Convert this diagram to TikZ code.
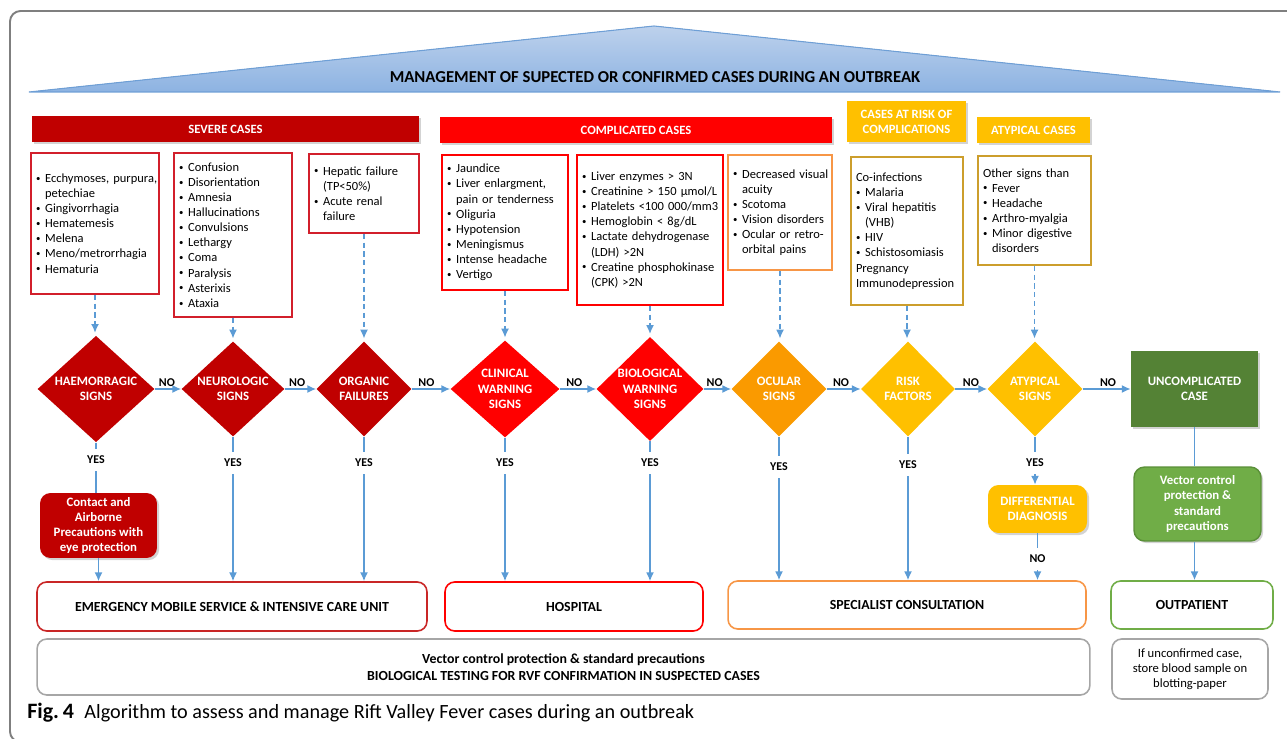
\documentclass[tikz,border=0pt]{standalone}
\usepackage{fontspec}
\setmainfont{Carlito}
\usetikzlibrary{shapes.geometric,arrows.meta,shadows}

\definecolor{sevred}{HTML}{C00000}
\definecolor{compred}{HTML}{FF0000}
\definecolor{ocularorange}{HTML}{FA9A00}
\definecolor{amber}{HTML}{FFC000}
\definecolor{uncgreen}{HTML}{548235}
\definecolor{lgreen}{HTML}{70AD47}
\definecolor{dgreen}{HTML}{5A8F38}
\definecolor{arrowblue}{HTML}{5B9BD5}
\definecolor{boxred}{HTML}{D21F2B}
\definecolor{boxorange}{HTML}{F79646}
\definecolor{boxgold}{HTML}{CC9E2C}
\definecolor{boxgray}{HTML}{A6A6A6}
\definecolor{framegray}{HTML}{7F7F7F}
\definecolor{tritop}{HTML}{BDD1EC}
\definecolor{tribot}{HTML}{8DB3E2}
\definecolor{triedge}{HTML}{6E9FD6}

\newcommand{\itm}[1]{\mbox{\makebox[5.2pt][l]{\raisebox{0.7pt}{\fontsize{5}{5}\selectfont •}}#1}}
\newcommand{\cnt}[1]{\mbox{\hspace*{5.2pt}#1}}

\tikzset{
  hdr/.style={fill=#1, text=white, align=center, inner sep=0pt,
    font=\fontsize{7.2}{8.6}\selectfont\bfseries,
    drop shadow={opacity=0.35, shadow xshift=1.2pt, shadow yshift=-1.2pt}},
  lst/.style={draw=#1, line width=1pt, fill=white, align=left, inner sep=0pt,
    font=\fontsize{7.1}{8.6}\selectfont},
  dia/.style={diamond, aspect=1, fill=#1, text=white, align=center, inner sep=0pt,
    font=\fontsize{7.3}{8.8}\selectfont\bfseries},
  actbox/.style={fill=#1, text=white, align=center, inner sep=0pt, rounded corners=6pt,
    font=\fontsize{7.3}{8.6}\selectfont\bfseries,
    drop shadow={opacity=0.35, shadow xshift=1.2pt, shadow yshift=-1.2pt}},
  endbox/.style={draw=#1, line width=0.9pt, fill=white, rounded corners=5.5pt,
    align=center, inner sep=0pt, font=\fontsize{7.9}{9.6}\selectfont\bfseries},
  flow/.style={draw=arrowblue, line width=0.8pt},
  arr/.style={flow, -{Latex[length=5pt,width=4.5pt]}},
  dflow/.style={arr, dash pattern=on 3pt off 2pt, shorten >=1.5pt},
  yn/.style={font=\fontsize{6.8}{8}\selectfont\bfseries, inner sep=4pt},
  nolab/.style={font=\fontsize{6.8}{8}\selectfont\bfseries, inner sep=1.2pt, anchor=south west}
}

\begin{document}
\begin{tikzpicture}[x=0.02cm, y=-0.02cm]
  \useasboundingbox (0,0) rectangle (1287,739);
  % frame and banner
  \draw[framegray, line width=1.1pt, rounded corners=6pt] (10,11) rectangle (1320,742);
  \filldraw[draw=triedge, line width=0.6pt, top color=tritop, bottom color=tribot]
    (29,92) -- (654,26) -- (1280,92) -- cycle;
  \node[font=\fontsize{9.5}{12}\selectfont\bfseries] (title) at (655,77)
    {MANAGEMENT OF SUPECTED OR CONFIRMED CASES DURING AN OUTBREAK};

  % headers
  \node[hdr=sevred, minimum width=7.74cm, minimum height=0.52cm] (severe) at (225.5,129) {SEVERE CASES};
  \node[hdr=compred, minimum width=7.84cm, minimum height=0.52cm] (complicated) at (636,130) {COMPLICATED CASES};
  \node[hdr=amber, minimum width=2.38cm, minimum height=0.82cm] (riskhdr) at (906.5,121.5) {CASES AT RISK OF\\COMPLICATIONS};
  \node[hdr=amber, minimum width=2.26cm, minimum height=0.52cm] (atyphdr) at (1033.5,130) {ATYPICAL CASES};

  % lists of signs
  \node[lst=boxred, minimum width=2.56cm, minimum height=2.82cm, text width=2.36cm] (haemlist) at (95,223.5)
    {\itm{Ecchymoses, purpura,}\\\cnt{petechiae}\\\itm{Gingivorrhagia}\\\itm{Hematemesis}\\\itm{Melena}\\\itm{Meno/metrorrhagia}\\\itm{Hematuria}};
  \node[lst=boxred, minimum width=2.36cm, minimum height=3.28cm, text width=2.16cm] (neurolist) at (233,235)
    {\itm{Confusion}\\\itm{Disorientation}\\\itm{Amnesia}\\\itm{Hallucinations}\\\itm{Convulsions}\\\itm{Lethargy}\\\itm{Coma}\\\itm{Paralysis}\\\itm{Asterixis}\\\itm{Ataxia}};
  \node[lst=boxred, minimum width=2.2cm, minimum height=1.58cm, text width=2.0cm] (organlist) at (364,193.5)
    {\itm{Hepatic failure}\\\cnt{(TP<50\%)}\\\itm{Acute renal}\\\cnt{failure}};
  \node[lst=compred, minimum width=2.52cm, minimum height=2.7cm, text width=2.32cm] (cliniclist) at (505,222.5)
    {\itm{Jaundice}\\\itm{Liver enlargment,}\\\cnt{pain or tenderness}\\\itm{Oliguria}\\\itm{Hypotension}\\\itm{Meningismus}\\\itm{Intense headache}\\\itm{Vertigo}};
  \node[lst=compred, minimum width=2.92cm, minimum height=3.0cm, text width=2.72cm] (biolist) at (650,230)
    {\itm{Liver enzymes > 3N}\\\itm{Creatinine > 150 µmol/L}\\\itm{Platelets <100 000/mm3}\\\itm{Hemoglobin < 8g/dL}\\\itm{Lactate dehydrogenase}\\\cnt{(LDH) >2N}\\\itm{Creatine phosphokinase}\\\cnt{(CPK) >2N}};
  \node[lst=boxorange, minimum width=2.08cm, minimum height=2.3cm, text width=1.88cm] (ocularlist) at (780,212.5)
    {\itm{Decreased visual}\\\cnt{acuity}\\\itm{Scotoma}\\\itm{Vision disorders}\\\itm{Ocular or retro-}\\\cnt{orbital pains}};
  \node[lst=boxgold, minimum width=2.24cm, minimum height=2.96cm, text width=2.04cm] (risklist) at (907,231)
    {Co-infections\\\itm{Malaria}\\\itm{Viral hepatitis}\\\cnt{(VHB)}\\\itm{HIV}\\\itm{Schistosomiasis}\\Pregnancy\\Immunodepression};
  \node[lst=boxgold, minimum width=2.26cm, minimum height=2.18cm, text width=2.06cm] (atyplist) at (1034.5,210.5)
    {Other signs than\\\itm{Fever}\\\itm{Headache}\\\itm{Arthro-myalgia}\\\itm{Minor digestive}\\\cnt{disorders}};

  % decisions
  \node[dia=sevred, minimum width=2.34cm, minimum height=1.94cm] (haem) at (96,389) {HAEMORRAGIC\\SIGNS};
  \node[dia=sevred, minimum width=2.06cm, minimum height=1.9cm] (neuro) at (233,389) {NEUROLOGIC\\SIGNS};
  \node[dia=sevred, minimum width=1.9cm, minimum height=1.9cm] (organ) at (364,389) {ORGANIC\\FAILURES};
  \node[dia=compred, minimum width=2.18cm, minimum height=1.94cm] (clinic) at (505,389) {CLINICAL\\WARNING\\SIGNS};
  \node[dia=compred, minimum width=2.14cm, minimum height=1.94cm] (bio) at (650,389) {BIOLOGICAL\\WARNING\\SIGNS};
  \node[dia=ocularorange, minimum width=1.9cm, minimum height=1.9cm] (ocular) at (779,389) {OCULAR\\SIGNS};
  \node[dia=amber, minimum width=1.88cm, minimum height=1.9cm] (risk) at (908,389) {RISK\\FACTORS};
  \node[dia=amber, minimum width=1.9cm, minimum height=1.9cm] (atyp) at (1035,389) {ATYPICAL\\SIGNS};
  \node[actbox=uncgreen, rounded corners=0pt, minimum width=2.54cm, minimum height=1.52cm] (uncomp) at (1194.5,389) {UNCOMPLICATED\\CASE};

  % yes / no labels
  \node[yn] (yes1) at (96,460) {YES};
  \node[yn] (yes2) at (233,463) {YES};
  \node[yn] (yes3) at (364,463) {YES};
  \node[yn] (yes4) at (505,463) {YES};
  \node[yn] (yes5) at (650,463) {YES};
  \node[yn] (yes6) at (779,467) {YES};
  \node[yn] (yes7) at (908,465) {YES};
  \node[yn] (yes8) at (1035,463) {YES};

  % actions
  \node[actbox=sevred, minimum width=2.34cm, minimum height=1.3cm] (contact) at (98.5,525.5)
    {Contact and\\Airborne\\Precautions with\\eye protection};
  \node[actbox=amber, minimum width=1.98cm, minimum height=0.96cm] (diff) at (1037.5,509) {DIFFERENTIAL\\DIAGNOSIS};
  \node[yn] (nodiff) at (1037.5,559) {NO};
  \node[actbox=lgreen, draw=dgreen, line width=0.8pt, drop shadow={opacity=0}, minimum width=2.54cm, minimum height=1.48cm] (vec) at (1197.5,504)
    {Vector control\\protection \&\\standard\\precautions};

  % outcomes
  \node[endbox=sevred!85!white, minimum width=7.8cm, minimum height=0.98cm] (ems) at (232,606.5) {EMERGENCY MOBILE SERVICE \& INTENSIVE CARE UNIT};
  \node[endbox=compred, minimum width=5.16cm, minimum height=0.98cm] (hosp) at (574,606.5) {HOSPITAL};
  \node[endbox=boxorange, minimum width=7.16cm, minimum height=0.96cm] (spec) at (907,605) {SPECIALIST CONSULTATION};
  \node[endbox=lgreen, minimum width=3.24cm, minimum height=0.96cm] (outp) at (1192,605) {OUTPATIENT};
  \node[endbox=boxgray, minimum width=21.06cm, minimum height=1.12cm] (testing) at (563.5,667)
    {Vector control protection \& standard precautions\\BIOLOGICAL TESTING FOR RVF CONFIRMATION IN SUSPECTED CASES};
  \node[endbox=boxgray, minimum width=3.12cm, minimum height=1.2cm, font=\fontsize{7.2}{8.6}\selectfont] (store) at (1190,669)
    {If unconfirmed case,\\store blood sample on\\blotting-paper};

  \node[anchor=base west, inner sep=0pt, font=\fontsize{11.5}{13}\selectfont] (caption) at (27,718)
    {\textbf{\fontsize{12.5}{13}\selectfont Fig.\,4}\hspace{6pt}Algorithm to assess and manage Rift Valley Fever cases during an outbreak};

  % lists to decisions
  \draw[dflow] (haemlist.south) -- (haemlist.south |- haem.north);
  \draw[dflow] (neurolist.south) -- (neurolist.south |- neuro.north);
  \draw[dflow] (organlist.south) -- (organlist.south |- organ.north);
  \draw[dflow] (cliniclist.south) -- (cliniclist.south |- clinic.north);
  \draw[dflow] (biolist.south) -- (biolist.south |- bio.north);
  \draw[dflow] (ocularlist.south) -- (ocularlist.south |- ocular.north);
  \draw[dflow] (risklist.south) -- (risklist.south |- risk.north);
  \draw[dflow] (atyplist.south) -- (atyplist.south |- atyp.north);

  % NO chain
  \draw[arr] (haem.east) -- node[nolab, pos=0.05] {NO} (neuro.west);
  \draw[arr] (neuro.east) -- node[nolab, pos=0.05] {NO} (organ.west);
  \draw[arr] (organ.east) -- node[nolab, pos=0.1] {NO} (clinic.west);
  \draw[arr] (clinic.east) -- node[nolab, pos=0.1] {NO} (bio.west);
  \draw[arr] (bio.east) -- node[nolab, pos=0.0] {NO} (ocular.west);
  \draw[arr] (ocular.east) -- node[nolab, pos=0.1] {NO} (risk.west);
  \draw[arr] (risk.east) -- node[nolab, pos=0.15] {NO} (atyp.west);
  \draw[arr] (atyp.east) -- node[nolab, pos=0.3] {NO} (uncomp.west);

  % YES branches
  \draw[flow] (haem.south) -- (yes1.north);
  \draw[flow] (yes1.south) -- (yes1.south |- contact.north);
  \draw[arr] (contact.south) -- (contact.south |- ems.north);
  \draw[flow] (neuro.south) -- (yes2.north);
  \draw[arr] (yes2.south) -- (yes2.south |- ems.north);
  \draw[flow] (organ.south) -- (yes3.north);
  \draw[arr] (yes3.south) -- (yes3.south |- ems.north);
  \draw[flow] (clinic.south) -- (yes4.north);
  \draw[arr] (yes4.south) -- (yes4.south |- hosp.north);
  \draw[flow] (bio.south) -- (yes5.north);
  \draw[arr] (yes5.south) -- (yes5.south |- hosp.north);
  \draw[flow] (ocular.south) -- (yes6.north);
  \draw[arr] (yes6.south) -- (yes6.south |- spec.north);
  \draw[flow] (risk.south) -- (yes7.north);
  \draw[arr] (yes7.south) -- (yes7.south |- spec.north);
  \draw[flow] (atyp.south) -- (yes8.north);
  \draw[arr] (yes8.south) -- (yes8.south |- diff.north);
  \draw[flow] (diff.south) -- (nodiff.north);
  \draw[arr] (nodiff.south) -- (nodiff.south |- spec.north);
  \draw[flow] (uncomp.south) -- (uncomp.south |- vec.north);
  \draw[arr] (uncomp.south |- vec.south) -- (uncomp.south |- outp.north);
\end{tikzpicture}
\end{document}
